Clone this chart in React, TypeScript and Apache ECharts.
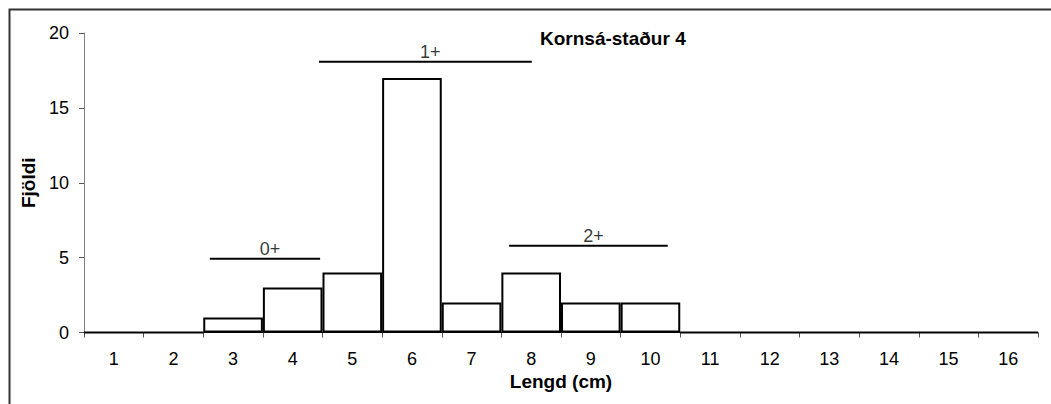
import React, { useEffect, useRef } from "react";
import * as echarts from "echarts";

const categories = ["1", "2", "3", "4", "5", "6", "7", "8", "9", "10", "11", "12", "13", "14", "15", "16"];
const counts = [0, 0, 1, 3, 4, 17, 2, 4, 2, 2, 0, 0, 0, 0, 0, 0];
const ageGroups = ["0+", "1+", "2+"];
const ageStart = [2.11, 3.94, 7.13];
const ageEnd = [3.96, 7.51, 9.79];
const ageLevel = [4.93, 18.08, 5.8];
const yTicks = { min: 0, max: 20, interval: 5 };

export default function App() {
  const ref = useRef<HTMLDivElement>(null);
  useEffect(() => {
    document.body.style.margin = "0";
    const chart = echarts.init(ref.current!, null, { renderer: "svg" });
    const font = "'Liberation Sans', Arial, sans-serif";
    const lineSeries = ageGroups.map((g, i) => ({
      type: "line",
      name: g,
      xAxisIndex: 1,
      symbol: "none",
      lineStyle: { color: "#000", width: 2 },
      data: [
        [ageStart[i], ageLevel[i]],
        [ageEnd[i], ageLevel[i]],
      ],
      z: 5,
    }));
    chart.setOption({
      animation: false,
      textStyle: { fontFamily: font },
      title: {
        text: "Kornsá-staður 4",
        left: 535,
        top: 24,
        textStyle: { fontSize: 19, fontWeight: "bold", color: "#000", fontFamily: font },
      },
      grid: { left: 84, right: 13, top: 33, bottom: 71.5 },
      xAxis: [
        {
          type: "category",
          data: categories,
          boundaryGap: true,
          name: "Lengd (cm)",
          nameLocation: "middle",
          nameGap: 38,
          nameTextStyle: { fontSize: 19, fontWeight: "bold", color: "#000" },
          axisLine: { lineStyle: { color: "#000", width: 1 } },
          axisTick: { show: true, length: 5, lineStyle: { color: "#555" } },
          axisLabel: { fontSize: 18, color: "#000", margin: 17 },
          splitLine: { show: false },
        },
        { type: "value", min: 0, max: 16, show: false },
      ],
      yAxis: {
        type: "value",
        min: yTicks.min,
        max: yTicks.max,
        interval: yTicks.interval,
        name: "Fjöldi",
        nameLocation: "middle",
        nameRotate: 90,
        nameGap: 42,
        nameTextStyle: { fontSize: 19, fontWeight: "bold", color: "#000" },
        axisLine: { show: true, lineStyle: { color: "#808080", width: 1 } },
        axisTick: { show: true, length: 5, lineStyle: { color: "#555" } },
        axisLabel: { fontSize: 18, color: "#000", margin: 15 },
        splitLine: { show: false },
      },
      series: [
        {
          type: "bar",
          data: counts,
          barWidth: "100%",
          barCategoryGap: 0,
          itemStyle: { color: "#fff", borderColor: "#000", borderWidth: 2 },
          z: 3,
        },
        ...lineSeries,
        {
          type: "scatter",
          xAxisIndex: 1,
          symbolSize: 0,
          data: ageGroups.map((g, i) => ({
            name: g,
            value: [(ageStart[i] + ageEnd[i]) / 2, ageLevel[i]],
          })),
          label: {
            show: true,
            position: "top",
            distance: 1,
            offset: [5, 0],
            formatter: (p: any) => p.name,
            fontSize: 18,
            color: "#000",
          },
          z: 6,
        },
      ],
      graphic: [
        {
          type: "rect",
          left: 7,
          top: 7,
          shape: { width: 1100, height: 500 },
          style: { fill: "none", stroke: "#333", lineWidth: 2 },
          silent: true,
        },
      ],
    });
    return () => chart.dispose();
  }, []);
  return <div ref={ref} style={{ width: 1051, height: 404 }} />;
}
